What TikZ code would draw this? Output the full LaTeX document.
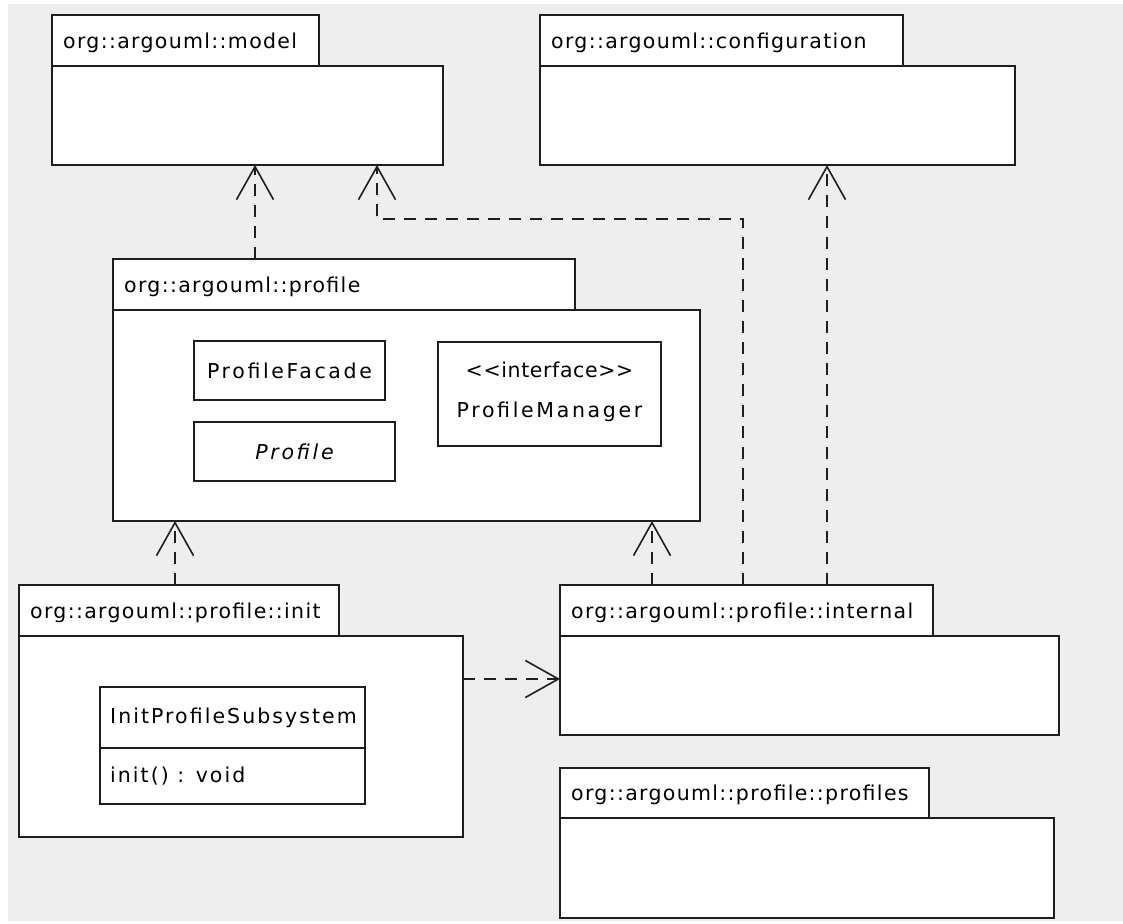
\documentclass[tikz,border=0pt]{standalone}
\usepackage{fontspec}
\setmainfont{DejaVu Sans}[LetterSpace=10]
\newfontfamily\tabfont{DejaVu Sans}[LetterSpace=6.5]
\newfontfamily\clsfont{DejaVu Sans}[LetterSpace=13]
\newfontfamily\stereofont{DejaVu Sans}[LetterSpace=3]
\usetikzlibrary{arrows.meta,calc}
\definecolor{bggray}{HTML}{EEEEEE}
\definecolor{ink}{HTML}{1E1E1E}
\tikzset{
  box/.style={draw=ink, fill=white, line width=2pt, rectangle, inner sep=0pt, outer sep=0pt, anchor=north west},
  lbl/.style={inner sep=0pt, anchor=west, font=\tabfont\fontsize{20.5pt}{24pt}\selectfont},
  mlbl/.style={inner sep=0pt, anchor=west, font=\fontsize{20.5pt}{24pt}\selectfont},
  ctext/.style={inner sep=0pt, font=\clsfont\fontsize{20.5pt}{40pt}\selectfont, align=center},
  dep/.style={draw=ink, line width=2pt, dash pattern=on 12pt off 9pt,
    -{Straight Barb[length=33pt,width=37pt,line width=1.6pt]}},
}
\begin{document}
\begin{tikzpicture}[x=1pt,y=-1pt]
\useasboundingbox (0,0) rectangle (1123,923);
\fill[white] (0,0) rectangle (1123,923);
\fill[bggray] (8,4) rectangle (1123,921);

% packages
\node[box, minimum width=267pt, minimum height=51pt] (modeltab) at (52,15) {};
\node[box, minimum width=391pt, minimum height=99pt] (modelbody) at (52,66) {};
\node[lbl] (modellbl) at ([xshift=11pt,yshift=-2pt]modeltab.west) {org::argouml::model};

\node[box, minimum width=363pt, minimum height=51pt] (conftab) at (540,15) {};
\node[box, minimum width=475pt, minimum height=99pt] (confbody) at (540,66) {};
\node[lbl] (conflbl) at ([xshift=11pt,yshift=-2pt]conftab.west) {org::argouml::configuration};

\node[box, minimum width=462pt, minimum height=51pt] (proftab) at (113,259) {};
\node[box, minimum width=587pt, minimum height=211pt] (profbody) at (113,310) {};
\node[lbl] (proflbl) at ([xshift=11pt,yshift=-2pt]proftab.west) {org::argouml::profile};

\node[box, minimum width=320pt, minimum height=51pt] (inittab) at (19,585) {};
\node[box, minimum width=444pt, minimum height=201pt] (initbody) at (19,636) {};
\node[lbl] (initlbl) at ([xshift=11pt,yshift=-2pt]inittab.west) {org::argouml::profile::init};

\node[box, minimum width=373pt, minimum height=51pt] (inttab) at (560,585) {};
\node[box, minimum width=499pt, minimum height=99pt] (intbody) at (560,636) {};
\node[lbl] (intlbl) at ([xshift=11pt,yshift=-2pt]inttab.west) {org::argouml::profile::internal};

\node[box, minimum width=369pt, minimum height=50pt] (pfstab) at (560,768) {};
\node[box, minimum width=494pt, minimum height=100pt] (pfsbody) at (560,818) {};
\node[lbl] (pfslbl) at ([xshift=11pt,yshift=-2pt]pfstab.west) {org::argouml::profile::profiles};

% classes in profile
\node[box, minimum width=191pt, minimum height=59pt] (pf) at (194,341) {};
\node[ctext] (pftxt) at (pf.center) {ProfileFacade};
\node[box, minimum width=201pt, minimum height=59pt] (prof) at (194,422) {};
\node[ctext] (proftxt) at (prof.center) {\itshape Profile};
\node[box, minimum width=223pt, minimum height=104pt] (pm) at (438,342) {};
\node[ctext] (pmtxt) at ([yshift=2pt]pm.center) {{\stereofont <{}<interface>{}>}\\ProfileManager};

% class in init
\node[box, minimum width=265pt, minimum height=61pt] (ipshead) at (100,687) {};
\node[box, minimum width=265pt, minimum height=56pt] (ipsops) at (100,748) {};
\node[mlbl] (ipsname) at ([xshift=10pt]ipshead.west) {InitProfileSubsystem};
\node[mlbl] (ipsop) at ([xshift=10pt]ipsops.west) {init() : void};

% dependencies
\coordinate (bend) at (743,219);
\draw[dep] ([xshift=142pt]proftab.north west) -- ([xshift=203pt]modelbody.south west);
\draw[dep] ([xshift=183pt]inttab.north west) -- (bend) -| ([xshift=325pt]modelbody.south west);
\draw[dep] ([xshift=267pt]inttab.north west) -- ([xshift=287pt]confbody.south west);
\draw[dep] ([xshift=156pt]inittab.north west) -- ([xshift=62pt]profbody.south west);
\draw[dep] ([xshift=92pt]inttab.north west) -- ([xshift=539pt]profbody.south west);
\draw[dep] ([yshift=-43pt]initbody.north east) -- ([yshift=-43pt]intbody.north west);
\end{tikzpicture}
\end{document}
